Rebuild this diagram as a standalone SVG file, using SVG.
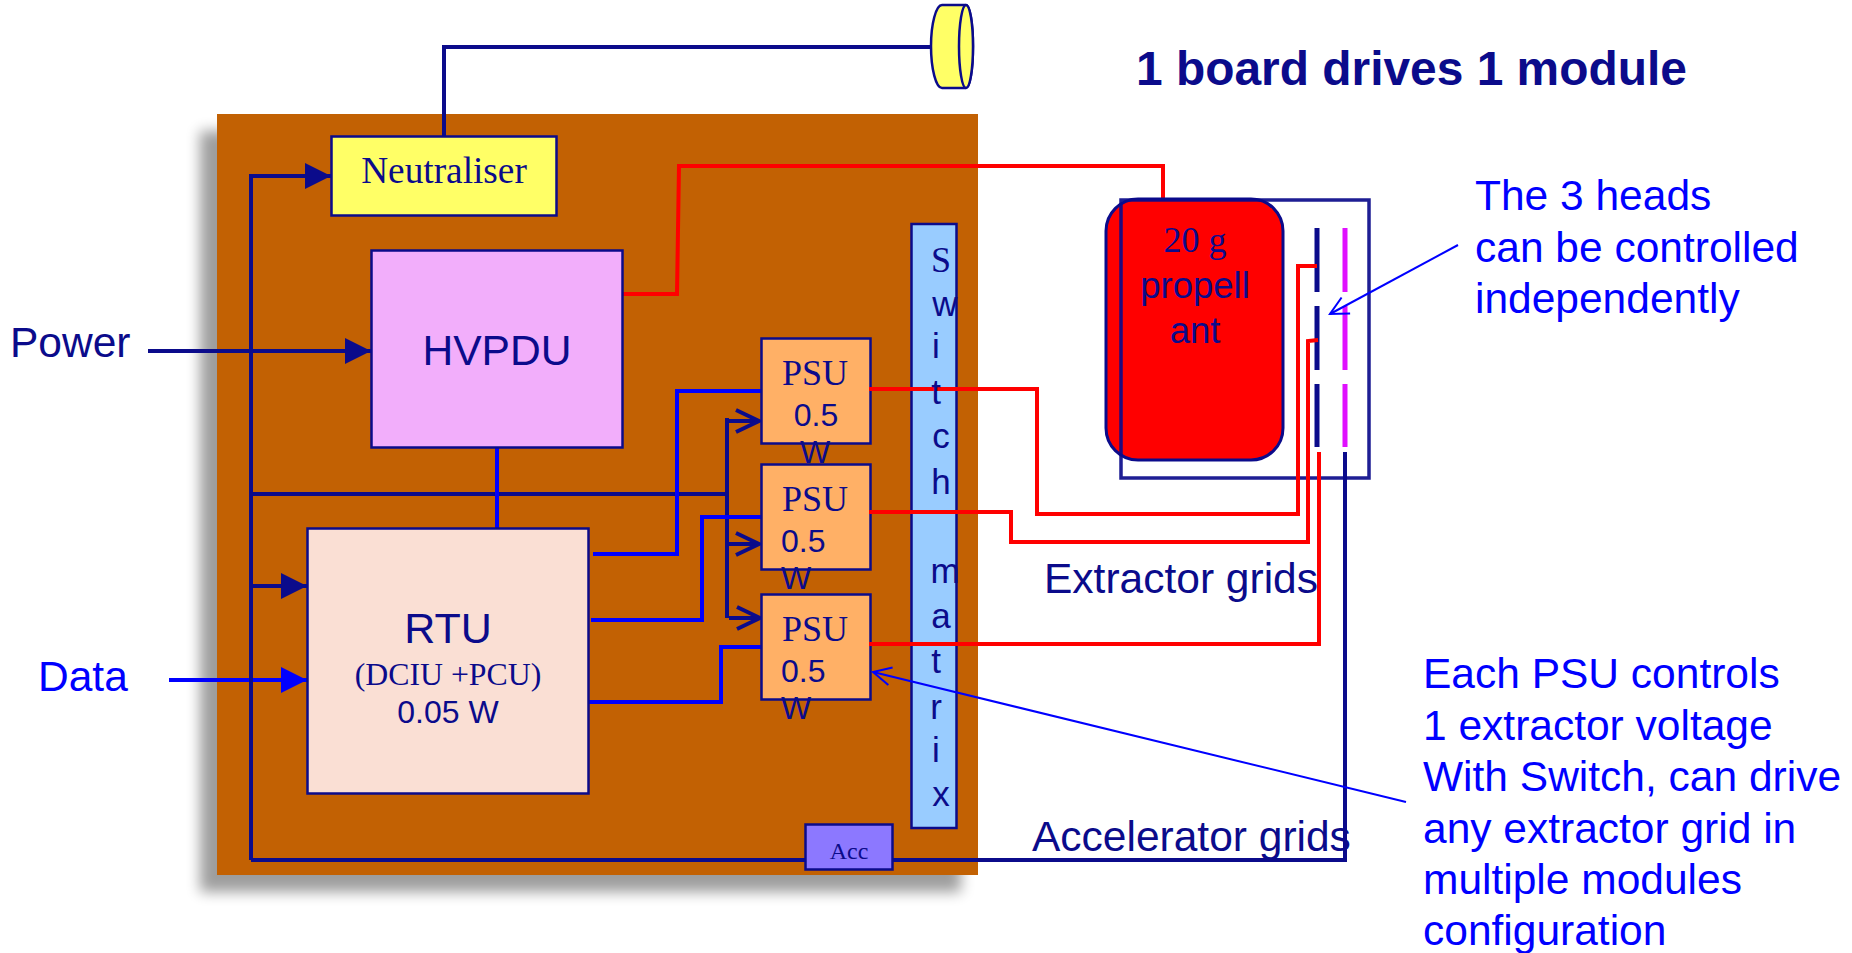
<svg xmlns="http://www.w3.org/2000/svg" width="1852" height="953" viewBox="0 0 1852 953">
<style>
.box{stroke:#0b0b8b;stroke-width:2.500}
.n{stroke:#0b0b8b;stroke-width:4;fill:none}
.b{stroke:#0000ff;stroke-width:4;fill:none}
.r{stroke:#ff0000;stroke-width:4;fill:none}
.thin{stroke:#0000ff;stroke-width:2;fill:none}
.s{font-family:"Liberation Sans",Arial,sans-serif;fill:#0b0b8b}
.t{font-family:"Liberation Serif","Times New Roman",serif;fill:#0b0b8b}
.c{text-anchor:middle}
.bl{font-family:"Liberation Sans",Arial,sans-serif;fill:#0000ff;font-size:42.500px}
</style>
<defs>
<filter id="blur" x="-10%" y="-10%" width="120%" height="120%"><feGaussianBlur stdDeviation="7"/></filter>
<marker id="tn" markerUnits="userSpaceOnUse" markerWidth="26" markerHeight="26" refX="26" refY="13" orient="auto"><path d="M0 0L26 13L0 26Z" fill="#0b0b8b"/></marker>
<marker id="tb" markerUnits="userSpaceOnUse" markerWidth="26" markerHeight="26" refX="26" refY="13" orient="auto"><path d="M0 0L26 13L0 26Z" fill="#0000ff"/></marker>
<marker id="on" markerUnits="userSpaceOnUse" markerWidth="32" markerHeight="26" refX="27" refY="13" orient="auto"><path d="M4 2L27 13L4 24" fill="none" stroke="#0b0b8b" stroke-width="4"/></marker>
<marker id="ob" markerUnits="userSpaceOnUse" markerWidth="24" markerHeight="24" refX="21" refY="12" orient="auto"><path d="M3 3L21 12L3 21" fill="none" stroke="#0000ff" stroke-width="2"/></marker>
</defs>
<g id="board">
<rect x="200" y="131" width="761" height="761" fill="#000" opacity=".38" filter="url(#blur)"/>
<rect x="217" y="114" width="761" height="761" fill="#c26103"/>
</g>
<g id="thruster">
<path d="M942 5H966C970 5 973 24 973 46C973 69 970 88 966 88H942C936 88 931 69 931 46C931 24 936 5 942 5Z" fill="#ffff66" stroke="#0b0b8b" stroke-width="2.500"/>
<ellipse cx="966" cy="46.500" rx="7" ry="41.500" fill="#ffff66" stroke="#0b0b8b" stroke-width="2.500"/>
</g>
<g id="switch-matrix">
<rect class="box" x="911.500" y="224" width="45" height="604" fill="#99ccff"/>
</g>
<g id="connectors">
<path class="n" d="M444 136V47H931"/>
<path class="r" d="M623 294H677L679 166H1163V200"/>
<path class="b" d="M169 680H307" marker-end="url(#tb)"/>
<path class="n" d="M251 860V176H331" marker-end="url(#tn)"/>
<path class="n" d="M251 586H307" marker-end="url(#tn)"/>
<path class="n" d="M148 351H371" marker-end="url(#tn)"/>
<path class="n" d="M251 494H727"/>
<path class="n" d="M727 418V618"/>
<path class="n" d="M729 421H759" marker-end="url(#on)"/>
<path class="n" d="M729 544H759" marker-end="url(#on)"/>
<path class="n" d="M729 618H760" marker-end="url(#on)"/>
<path class="b" d="M497 448V528"/>
<path class="b" d="M593 554H677V391H761"/>
<path class="b" d="M591 620H702V517H761"/>
<path class="b" d="M589 702H721V647H761"/>
<path class="n" d="M251 860H1345V452"/>
</g>
<g id="neutraliser"><rect class="box" x="331.500" y="136.500" width="225" height="79" fill="#ffff66"/><text class="t c" x="444" y="183" font-size="37.300">Neutraliser</text></g>
<g id="hvpdu"><rect class="box" x="371.500" y="250.500" width="251" height="197" fill="#f2aefb"/><text class="s c" x="497" y="365" font-size="42.600">HVPDU</text></g>
<g id="rtu"><rect class="box" x="307.500" y="528.500" width="281" height="265" fill="#fadfd4"/><text class="s c" x="448" y="643" font-size="43">RTU</text><text class="t c" x="448" y="685" font-size="31.800">(DCIU +PCU)</text><text class="s c" x="448" y="723" font-size="32">0.05 W</text></g>
<g id="psu1"><rect class="box" x="761.500" y="338.500" width="109" height="105" fill="#ffb066"/><text class="t c" x="815" y="385" font-size="36">PSU</text><text class="s c" x="816" y="426" font-size="32">0.5</text><text class="s c" x="815" y="463" font-size="32">W</text></g>
<g id="psu2"><rect class="box" x="761.500" y="464.500" width="109" height="105" fill="#ffb066"/><text class="t c" x="815" y="511" font-size="36">PSU</text><text class="s" x="781" y="552" font-size="32">0.5</text><text class="s" x="781" y="589" font-size="32">W</text></g>
<g id="psu3"><rect class="box" x="761.500" y="594.500" width="109" height="105" fill="#ffb066"/><text class="t c" x="815" y="641" font-size="36">PSU</text><text class="s" x="781" y="682" font-size="32">0.5</text><text class="s" x="781" y="719" font-size="32">W</text></g>
<g id="acc"><rect class="box" x="805.500" y="824.500" width="87" height="45" fill="#8c78ff"/><text class="t c" x="849" y="859" font-size="24">Acc</text></g>
<g id="propellant">
<rect x="1106" y="199" width="177" height="261" rx="32" fill="#ff0000" stroke="#0b0b8b" stroke-width="3"/>
<rect x="1121" y="200" width="248" height="278" fill="none" stroke="#0b0b8b" stroke-width="3.500" opacity=".92"/>
<text class="t c" x="1195" y="252" font-size="36">20 g</text>
<text class="s c" x="1195" y="298" font-size="36.500">propell</text>
<text class="s c" x="1195" y="343" font-size="36.500">ant</text>
</g>
<g id="grids">
<path d="M1317 228V292M1317 306V370M1317 384V447" stroke="#0b0b8b" stroke-width="5" fill="none"/>
<path d="M1345 228V292M1345 306V370M1345 384V447" stroke="#e010ff" stroke-width="5" fill="none"/>
</g>
<g id="red-connectors">
<path class="r" d="M869 389H1037V514H1298V266H1317"/>
<path class="r" d="M869 512H1011V542H1308V341L1318 340"/>
<path class="r" d="M869 644H1319V452"/>
</g>
<g id="callouts">
<path class="thin" d="M1458 245L1330 314" marker-end="url(#ob)"/>
<path class="thin" d="M1406 802L873 672" marker-end="url(#ob)"/>
</g>
<g id="switch-label" class="s c" font-size="35">
<text class="t c" x="941" y="272" font-size="36">S</text>
<text x="945" y="316">w</text><text x="936" y="358">i</text><text x="936" y="404">t</text><text x="941" y="448">c</text><text x="941" y="494">h</text>
<text x="945" y="583">m</text><text x="941" y="628">a</text><text x="936" y="673">t</text><text x="936" y="719">r</text><text x="936" y="762">i</text><text x="941" y="806">x</text>
</g>
<g id="labels">
<text class="s" x="1136" y="85" font-size="47.900" font-weight="700">1 board drives 1 module</text>
<text class="bl" x="10" y="357" style="fill:#0b0b8b">Power</text>
<text class="bl" x="38" y="691">Data</text>
<text class="s" x="1044" y="593" font-size="42.500">Extractor grids</text>
<text class="s" x="1032" y="851" font-size="42.500">Accelerator grids</text>
<text class="bl" x="1475" y="210">The 3 heads</text>
<text class="bl" x="1475" y="262">can be controlled</text>
<text class="bl" x="1475" y="313">independently</text>
<text class="bl" x="1423" y="688">Each PSU controls</text>
<text class="bl" x="1423" y="740">1 extractor voltage</text>
<text class="bl" x="1423" y="791">With Switch, can drive</text>
<text class="bl" x="1423" y="843">any extractor grid in</text>
<text class="bl" x="1423" y="894">multiple modules</text>
<text class="bl" x="1423" y="945">configuration</text>
</g>
</svg>
